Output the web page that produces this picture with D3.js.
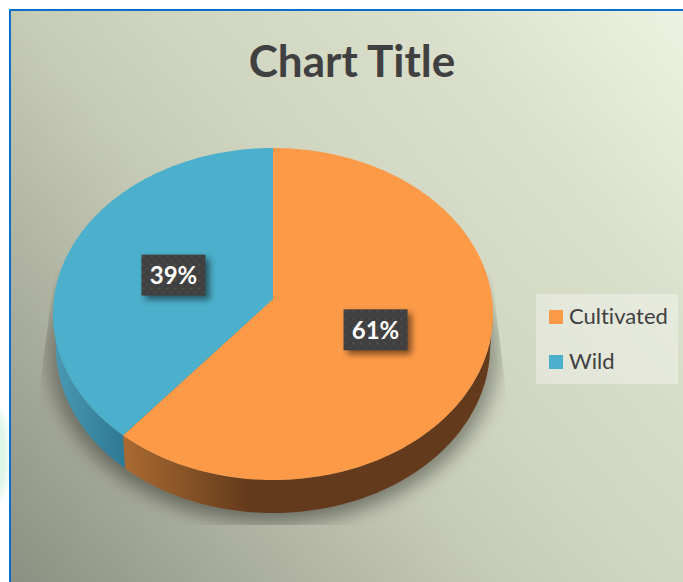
<!DOCTYPE html>
<html>
<head>
<meta charset="utf-8">
<script src="https://cdnjs.cloudflare.com/ajax/libs/d3/7.8.5/d3.min.js"></script>
<style>
    html, body { margin: 0; padding: 0; background: #fff; }
    svg { display: block; }
    text { font-family: Lato, "Open Sans", sans-serif; font-variant-ligatures: none; }
</style>
</head>
<body>
<div id="chart"></div>
<script>
// DATA
var categories = ["Cultivated", "Wild"];
var shares = [61, 39];
var colors = ["#fd9a47", "#4cafcb"];
var titleText = "Chart Title";

// UI dimensions
var width = 683, height = 582;
var cx = 273, cy = 314;
var rx = 220, ry = 166;
var depth = 33;
var tilt = -0.09;    // moves the pie's apex up, as the perspective of the 3D view does

var svg = d3.select("#chart").append("svg")
    .attr("width", width)
    .attr("height", height);
var defs = svg.append("defs");

var bg = defs.append("linearGradient").attr("id", "bg")
    .attr("gradientUnits", "userSpaceOnUse")
    .attr("x1", 10).attr("y1", 582).attr("x2", 683).attr("y2", 10);
[[0, "#8c9082"], [0.22, "#abaf9d"], [0.42, "#c6cbb6"], [0.55, "#d0d5c0"], [0.78, "#dae0cb"], [0.92, "#e6ecd8"], [1, "#ecf2df"]].forEach(function(s) {
    bg.append("stop").attr("offset", s[0]).attr("stop-color", s[1]);
});

var wallOrange = defs.append("linearGradient").attr("id", "wall0")
    .attr("gradientUnits", "userSpaceOnUse")
    .attr("x1", 122).attr("y1", 0).attr("x2", 250).attr("y2", 0);
wallOrange.append("stop").attr("offset", 0).attr("stop-color", "#ab6b32");
wallOrange.append("stop").attr("offset", 1).attr("stop-color", "#633a1b");

var wallBlue = defs.append("linearGradient").attr("id", "wall1")
    .attr("gradientUnits", "userSpaceOnUse")
    .attr("x1", 53).attr("y1", 0).attr("x2", 122).attr("y2", 0);
wallBlue.append("stop").attr("offset", 0).attr("stop-color", "#4a9ab5");
wallBlue.append("stop").attr("offset", 1).attr("stop-color", "#2f7a94");

defs.append("filter").attr("id", "blur8")
    .attr("x", "-20%").attr("y", "-20%").attr("width", "140%").attr("height", "140%")
    .append("feGaussianBlur").attr("stdDeviation", 9);
defs.append("filter").attr("id", "blur3")
    .attr("x", "-30%").attr("y", "-30%").attr("width", "160%").attr("height", "160%")
    .append("feGaussianBlur").attr("stdDeviation", 3);

defs.append("clipPath").attr("id", "shadowClip")
    .append("polygon").attr("points", "55,270 491,270 507,400 507,525 38,525 38,400");

var fade = defs.append("linearGradient").attr("id", "fade")
    .attr("x1", 0).attr("y1", 0).attr("x2", 0).attr("y2", 1);
fade.append("stop").attr("offset", 0).attr("stop-color", "#000").attr("stop-opacity", 0);
fade.append("stop").attr("offset", 0.45).attr("stop-color", "#000").attr("stop-opacity", 0.3);
fade.append("stop").attr("offset", 1).attr("stop-color", "#000").attr("stop-opacity", 0.42);

var dots = defs.append("pattern").attr("id", "dots")
    .attr("patternUnits", "userSpaceOnUse")
    .attr("width", 8).attr("height", 8);
dots.append("rect").attr("width", 8).attr("height", 8).attr("fill", "#404040");
dots.append("circle").attr("cx", 2).attr("cy", 2).attr("r", 1.1).attr("fill", "#545454");
dots.append("circle").attr("cx", 6).attr("cy", 6).attr("r", 1.1).attr("fill", "#4c4c4c");

// page behind the chart: the faint green patch at the left edge
svg.append("ellipse")
    .attr("cx", -4).attr("cy", 455).attr("rx", 12).attr("ry", 46)
    .attr("fill", "#c8f0d6")
    .attr("opacity", 0.6)
    .attr("filter", "url(#blur3)");

// chart area
svg.append("rect")
    .attr("x", 10).attr("y", 10)
    .attr("width", width).attr("height", height)
    .attr("fill", "url(#bg)")
    .attr("stroke", "#0b6fc9")
    .attr("stroke-width", 2);

svg.append("text")
    .attr("x", 352).attr("y", 77)
    .attr("text-anchor", "middle")
    .attr("font-size", 44)
    .attr("font-weight", 700)
    .attr("fill", "#404040")
    .text(titleText);

// shadow below the pie
svg.append("g").attr("clip-path", "url(#shadowClip)")
    .append("ellipse")
    .attr("cx", cx).attr("cy", 350)
    .attr("rx", 226).attr("ry", 172)
    .attr("fill", "url(#fade)")
    .attr("filter", "url(#blur8)");

// PIE
var pie = d3.pie().sort(null).value(function(d) { return d; });
var arcs = pie(shares);

// point of the top face at pie angle a and radius fraction r
var project = function(a, r) {
    var x = r * Math.sin(a), y = -r * Math.cos(a);
    var w = 1 + tilt * y;
    return {
        x: x * Math.sqrt(1 - tilt * tilt) / w,
        y: (y + tilt) / w
    };
};

var line = d3.line()
    .x(function(p) { return p[0]; })
    .y(function(p) { return p[1]; });

var rim = function(d) {
    var n = 160;
    return d3.range(n + 1).map(function(i) {
        return project(d.startAngle + (d.endAngle - d.startAngle) * i / n, 1);
    });
};

// side walls, front half only
var walls = svg.append("g");
arcs.forEach(function(d, i) {
    var front = rim(d).filter(function(p) { return p.y >= 0; });
    var top = front.map(function(p) { return [cx + p.x * rx, cy + p.y * ry]; });
    var bottom = front.map(function(p) { return [cx + p.x * (rx - 3), cy + p.y * ry + depth]; });
    walls.append("path")
        .attr("d", line(top.concat(bottom.reverse())) + "Z")
        .attr("fill", "url(#wall" + i + ")");
});

// top face
var faces = svg.append("g");
arcs.forEach(function(d, i) {
    var apex = project(0, 0);
    var pts = [[cx + apex.x * rx, cy + apex.y * ry]].concat(rim(d).map(function(p) {
        return [cx + p.x * rx, cy + p.y * ry];
    }));
    faces.append("path")
        .attr("d", line(pts) + "Z")
        .attr("fill", colors[i]);
});

// data labels
var boxW = 64, boxH = 41;
arcs.forEach(function(d) {
    var p = project((d.startAngle + d.endAngle) / 2, 0.49);
    var lx = cx + p.x * rx, ly = cy + p.y * ry + 3;
    var g = svg.append("g")
        .attr("transform", "translate(" + (lx - boxW / 2) + "," + (ly - boxH / 2) + ")");
    g.append("rect")
        .attr("x", 4).attr("y", 4)
        .attr("width", boxW).attr("height", boxH)
        .attr("fill", "#000").attr("opacity", 0.5)
        .attr("filter", "url(#blur3)");
    g.append("rect")
        .attr("width", boxW).attr("height", boxH)
        .attr("fill", "url(#dots)");
    g.append("text")
        .attr("x", boxW / 2).attr("y", 29.5)
        .attr("text-anchor", "middle")
        .attr("font-size", 24)
        .attr("font-weight", 700)
        .attr("fill", "#fff")
        .text(d.data + "%");
});

// legend
var legend = svg.append("g").attr("transform", "translate(536,294)");
legend.append("rect")
    .attr("width", 142).attr("height", 90)
    .attr("fill", "#fff").attr("opacity", 0.35);
var items = legend.selectAll(".item")
    .data(categories)
    .enter().append("g")
    .classed("item", true)
    .attr("transform", function(d, i) { return "translate(13," + (16 + i * 45) + ")"; });
items.append("rect")
    .attr("width", 14).attr("height", 14)
    .attr("fill", function(d, i) { return colors[i]; });
items.append("text")
    .attr("x", 20).attr("y", 14)
    .attr("font-size", 22)
    .attr("fill", "#404040")
    .text(function(d) { return d; });
</script>
</body>
</html>
